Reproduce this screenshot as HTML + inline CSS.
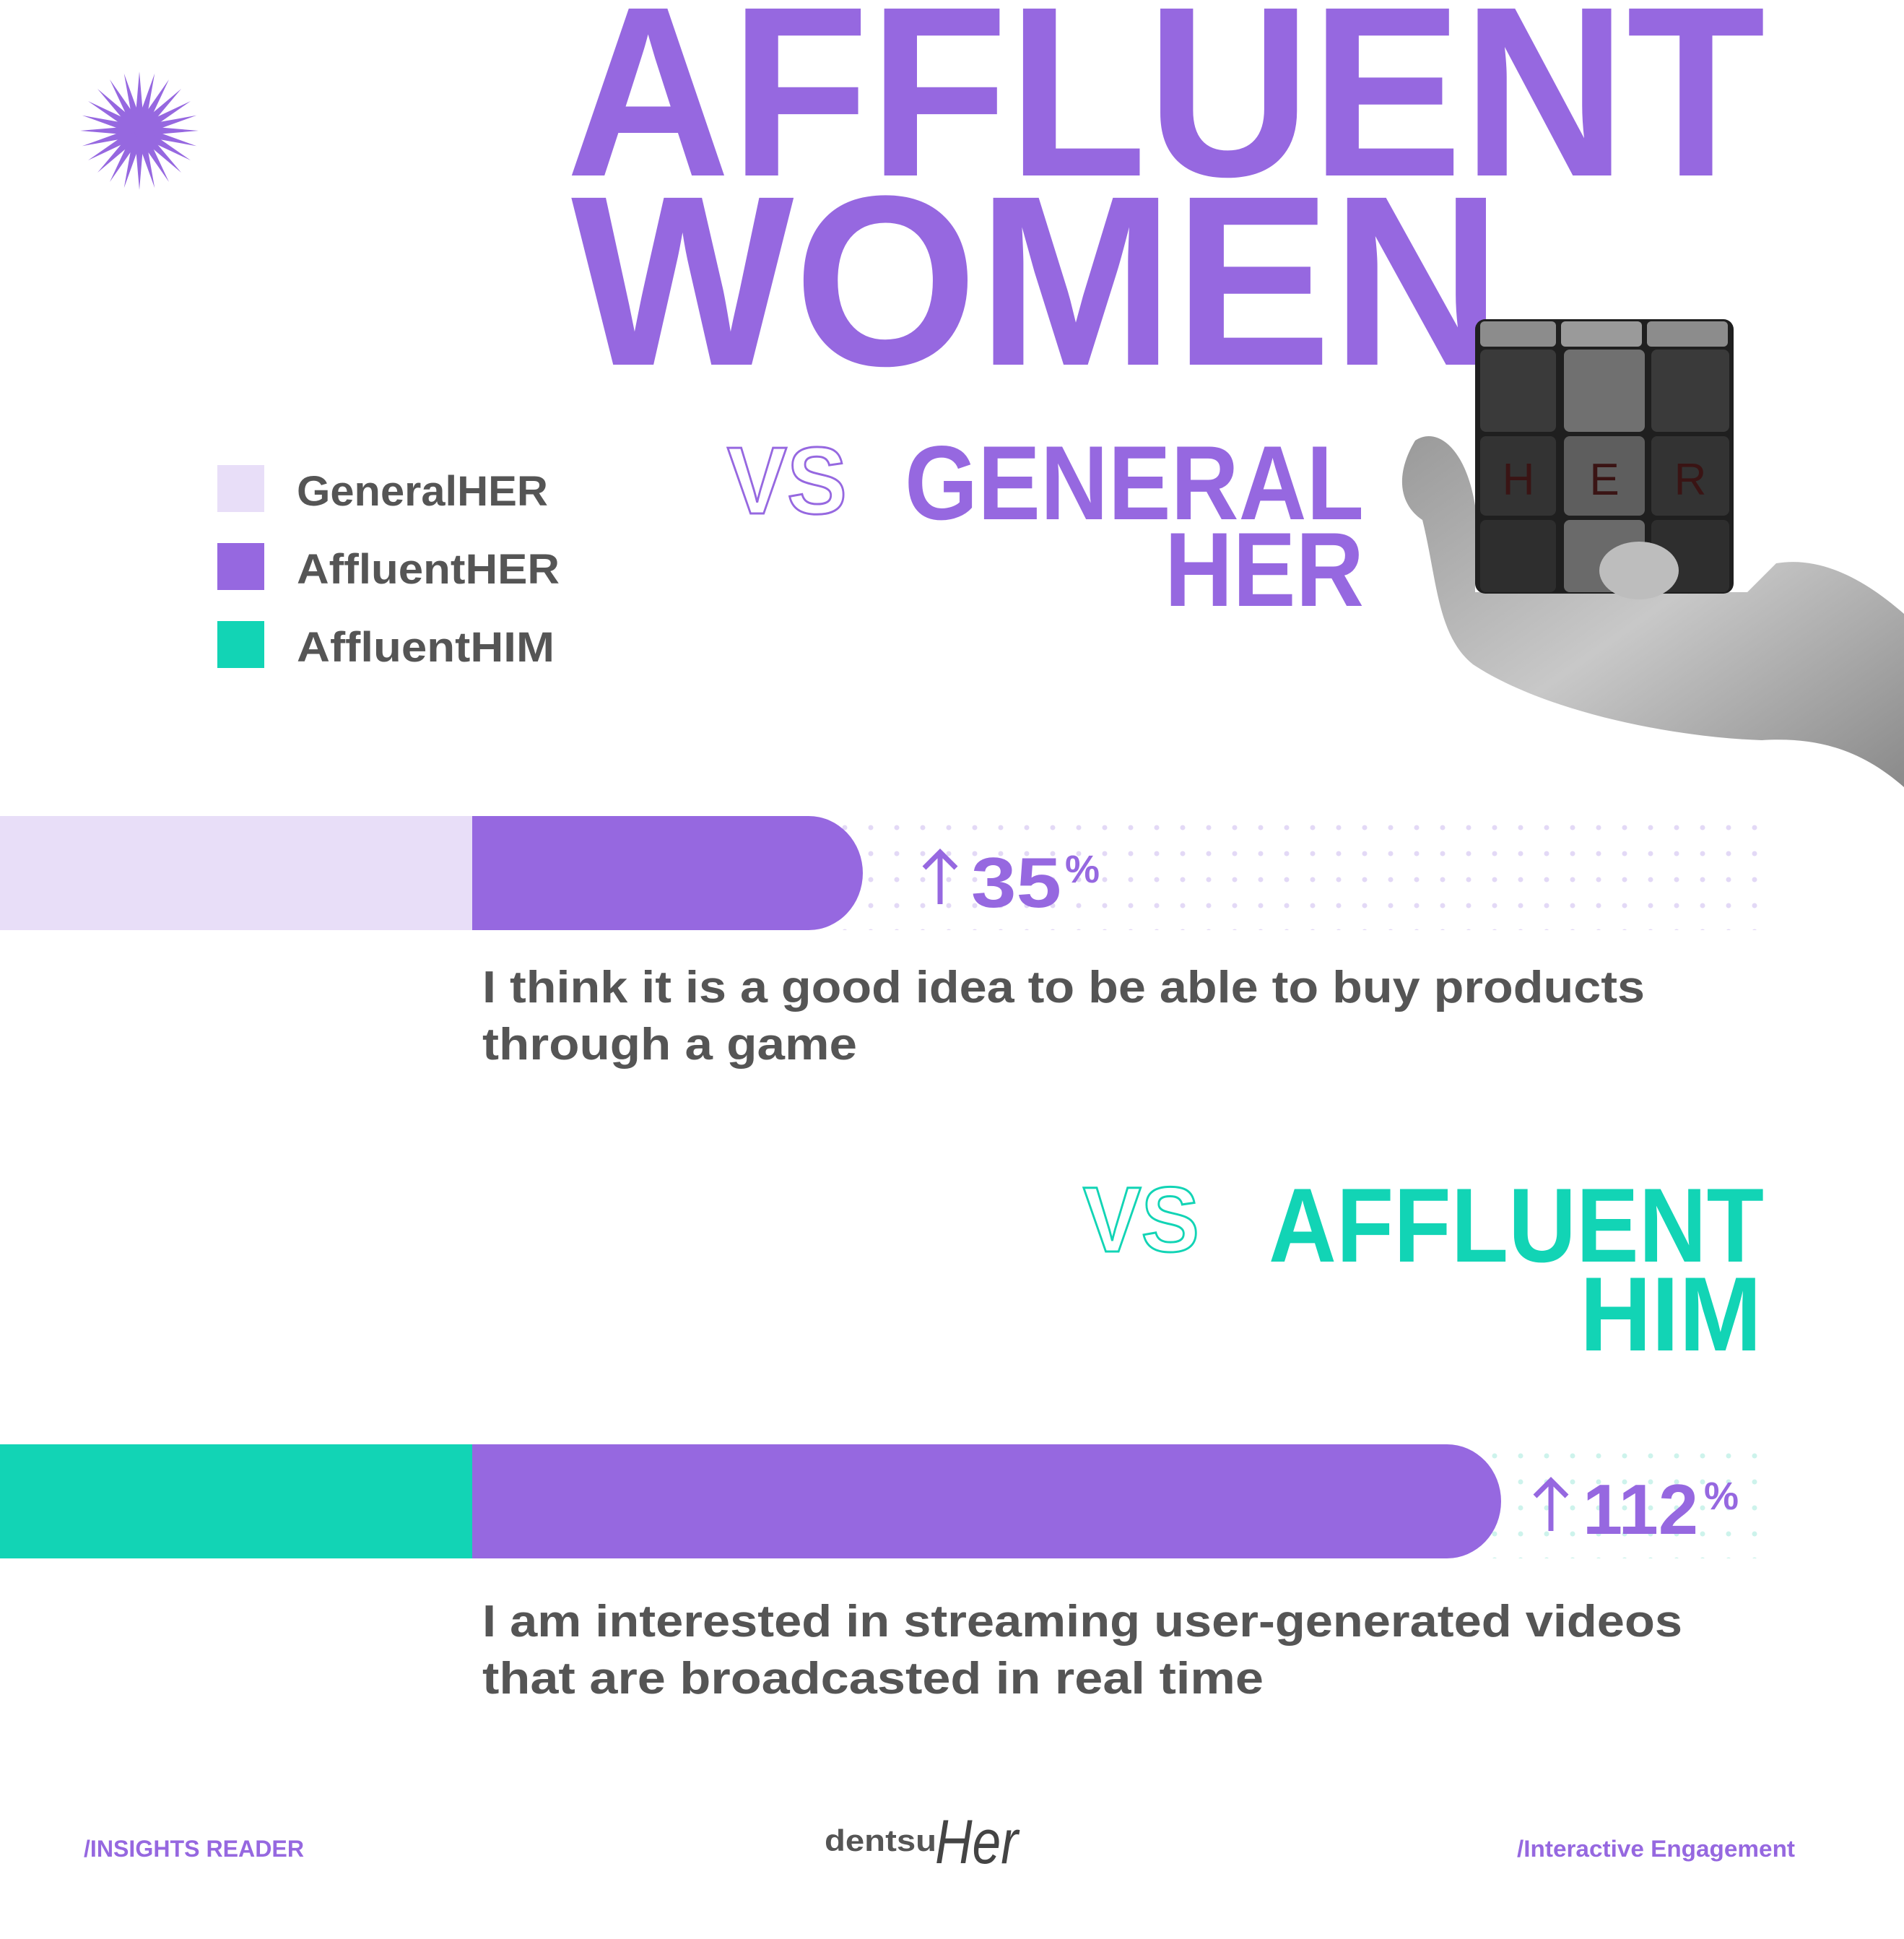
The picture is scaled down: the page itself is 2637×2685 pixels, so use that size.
<!DOCTYPE html>
<html><head><meta charset="utf-8"><style>
html,body{margin:0;padding:0;background:#fff;width:2637px;height:2685px;overflow:hidden}
svg{display:block}
text{font-family:"Liberation Sans",sans-serif}
</style></head><body>
<svg width="2637" height="2685" viewBox="0 0 2637 2685" xmlns="http://www.w3.org/2000/svg">
<defs>
<pattern id="dp" x="0" y="1136" width="36" height="36" patternUnits="userSpaceOnUse"><circle cx="18" cy="10" r="3.5" fill="#E3D9F6"/></pattern>
<pattern id="dt" x="0" y="2006" width="36" height="36" patternUnits="userSpaceOnUse"><circle cx="18" cy="10" r="3.5" fill="#CDF3EC"/></pattern>
<linearGradient id="hg" x1="0" y1="0" x2="1" y2="1"><stop offset="0" stop-color="#9a9a9a"/><stop offset="0.5" stop-color="#c8c8c8"/><stop offset="1" stop-color="#8a8a8a"/></linearGradient>
</defs>

<g transform="translate(193,181)" fill="#9668E0">
<circle r="30"/>
<path d="M0,-82 L7,0 L0,82 L-7,0Z"/>
<path d="M0,-82 L7,0 L0,82 L-7,0Z" transform="rotate(15)"/>
<path d="M0,-82 L7,0 L0,82 L-7,0Z" transform="rotate(30)"/>
<path d="M0,-82 L7,0 L0,82 L-7,0Z" transform="rotate(45)"/>
<path d="M0,-82 L7,0 L0,82 L-7,0Z" transform="rotate(60)"/>
<path d="M0,-82 L7,0 L0,82 L-7,0Z" transform="rotate(75)"/>
<path d="M0,-82 L7,0 L0,82 L-7,0Z" transform="rotate(90)"/>
<path d="M0,-82 L7,0 L0,82 L-7,0Z" transform="rotate(105)"/>
<path d="M0,-82 L7,0 L0,82 L-7,0Z" transform="rotate(120)"/>
<path d="M0,-82 L7,0 L0,82 L-7,0Z" transform="rotate(135)"/>
<path d="M0,-82 L7,0 L0,82 L-7,0Z" transform="rotate(150)"/>
<path d="M0,-82 L7,0 L0,82 L-7,0Z" transform="rotate(165)"/>
</g>

<text x="784" y="243" font-size="336" font-weight="700" fill="#9668E0" textLength="1661" lengthAdjust="spacingAndGlyphs">AFFLUENT</text>
<text x="791" y="505" font-size="336" font-weight="700" fill="#9668E0" textLength="1289" lengthAdjust="spacingAndGlyphs">WOMEN</text>

<path d="M1960,610 C1990,590 2030,620 2043,700 L2043,820 L2420,820 L2460,780 C2520,770 2580,800 2637,850 L2637,1090 C2580,1040 2520,1020 2440,1025 C2300,1020 2130,980 2040,920 C1990,880 1990,800 1970,720 C1940,700 1930,660 1960,610Z" fill="url(#hg)"/>
<g>
<rect x="2043" y="442" width="358" height="380" rx="14" fill="#1f1f1f"/>
<rect x="2050" y="445" width="105" height="35" rx="6" fill="#8c8c8c"/>
<rect x="2162" y="445" width="112" height="35" rx="6" fill="#9a9a9a"/>
<rect x="2281" y="445" width="112" height="35" rx="6" fill="#8c8c8c"/>
<rect x="2050" y="484" width="105" height="114" rx="8" fill="#3a3a3a"/>
<rect x="2166" y="484" width="112" height="114" rx="8" fill="#707070"/>
<rect x="2287" y="484" width="108" height="114" rx="8" fill="#3a3a3a"/>
<rect x="2050" y="604" width="105" height="110" rx="8" fill="#333"/>
<rect x="2166" y="604" width="112" height="110" rx="8" fill="#5e5e5e"/>
<rect x="2287" y="604" width="108" height="110" rx="8" fill="#333"/>
<rect x="2050" y="720" width="105" height="100" rx="8" fill="#2e2e2e"/>
<rect x="2166" y="720" width="112" height="100" rx="8" fill="#6a6a6a"/>
<rect x="2287" y="720" width="108" height="100" rx="8" fill="#2e2e2e"/>
<text x="2103" y="685" font-family="Liberation Serif,serif" font-size="62" fill="#3a1414" text-anchor="middle">H</text>
<text x="2222" y="685" font-family="Liberation Serif,serif" font-size="62" fill="#3a1414" text-anchor="middle">E</text>
<text x="2341" y="685" font-family="Liberation Serif,serif" font-size="62" fill="#3a1414" text-anchor="middle">R</text>
</g>
<ellipse cx="2270" cy="790" rx="55" ry="40" fill="#bdbdbd"/>

<rect x="301" y="644" width="65" height="65" fill="#E8DEF8"/>
<rect x="301" y="752" width="65" height="65" fill="#9668E0"/>
<rect x="301" y="860" width="65" height="65" fill="#12D4B5"/>
<text x="411" y="700" font-size="58" font-weight="700" fill="#555" textLength="348" lengthAdjust="spacingAndGlyphs">GeneralHER</text>
<text x="411" y="808" font-size="58" font-weight="700" fill="#555" textLength="364" lengthAdjust="spacingAndGlyphs">AffluentHER</text>
<text x="411" y="916" font-size="58" font-weight="700" fill="#555" textLength="357" lengthAdjust="spacingAndGlyphs">AffluentHIM</text>

<text x="1007" y="711" font-size="132" font-weight="700" fill="none" stroke="#9668E0" stroke-width="3" textLength="166" lengthAdjust="spacingAndGlyphs">VS</text>
<text x="1253" y="719" font-size="146" font-weight="700" fill="#9668E0" textLength="636" lengthAdjust="spacingAndGlyphs">GENERAL</text>
<text x="1613" y="839" font-size="146" font-weight="700" fill="#9668E0" textLength="276" lengthAdjust="spacingAndGlyphs">HER</text>

<rect x="1150" y="1130" width="1309" height="158" fill="url(#dp)"/>
<rect x="0" y="1130" width="654" height="158" fill="#E8DEF8"/>
<path d="M654,1130 H1120 A75,79 0 0 1 1120,1288 H654Z" fill="#9668E0"/>
<path d="M1302,1180 L1302,1252 M1280,1202 L1302,1180 L1324,1202" stroke="#9668E0" stroke-width="7" fill="none"/>
<text x="1345" y="1256" font-size="98" font-weight="700" fill="#9668E0" textLength="125" lengthAdjust="spacingAndGlyphs">35</text>
<text x="1475" y="1222" font-size="54" font-weight="700" fill="#9668E0">%</text>
<text x="668" y="1388" font-size="62" font-weight="700" fill="#555" textLength="1610" lengthAdjust="spacingAndGlyphs">I think it is a good idea to be able to buy products</text>
<text x="668" y="1467" font-size="62" font-weight="700" fill="#555" textLength="519" lengthAdjust="spacingAndGlyphs">through a game</text>

<text x="1500" y="1733" font-size="128" font-weight="700" fill="none" stroke="#12D4B5" stroke-width="3" textLength="161" lengthAdjust="spacingAndGlyphs">VS</text>
<text x="1757" y="1747" font-size="146" font-weight="700" fill="#12D4B5" textLength="686" lengthAdjust="spacingAndGlyphs">AFFLUENT</text>
<text x="2188" y="1870" font-size="146" font-weight="700" fill="#12D4B5" textLength="252" lengthAdjust="spacingAndGlyphs">HIM</text>

<rect x="2040" y="2000" width="419" height="158" fill="url(#dt)"/>
<rect x="0" y="2000" width="654" height="158" fill="#12D4B5"/>
<path d="M654,2000 H2004 A75,79 0 0 1 2004,2158 H654Z" fill="#9668E0"/>
<path d="M2148,2050 L2148,2120 M2126,2072 L2148,2050 L2170,2072" stroke="#9668E0" stroke-width="7" fill="none"/>
<text x="2192" y="2124" font-size="98" font-weight="700" fill="#9668E0" textLength="160" lengthAdjust="spacingAndGlyphs">112</text>
<text x="2360" y="2090" font-size="54" font-weight="700" fill="#9668E0">%</text>
<text x="668" y="2266" font-size="62" font-weight="700" fill="#555" textLength="1662" lengthAdjust="spacingAndGlyphs">I am interested in streaming user-generated videos</text>
<text x="668" y="2345" font-size="62" font-weight="700" fill="#555" textLength="1082" lengthAdjust="spacingAndGlyphs">that are broadcasted in real time</text>

<text x="116" y="2571" font-size="32" font-weight="700" fill="#9668E0" textLength="305" lengthAdjust="spacingAndGlyphs">/INSIGHTS READER</text>
<text x="1142" y="2563" font-size="42" font-weight="700" fill="#555" textLength="155" lengthAdjust="spacingAndGlyphs">dentsu</text>
<text x="1295" y="2580" font-family="Liberation Serif,serif" font-style="italic" font-size="86" fill="#444" textLength="115" lengthAdjust="spacingAndGlyphs">Her</text>
<text x="2101" y="2571" font-size="32" font-weight="700" fill="#9668E0" textLength="385" lengthAdjust="spacingAndGlyphs">/Interactive Engagement</text>
</svg>
</body></html>
